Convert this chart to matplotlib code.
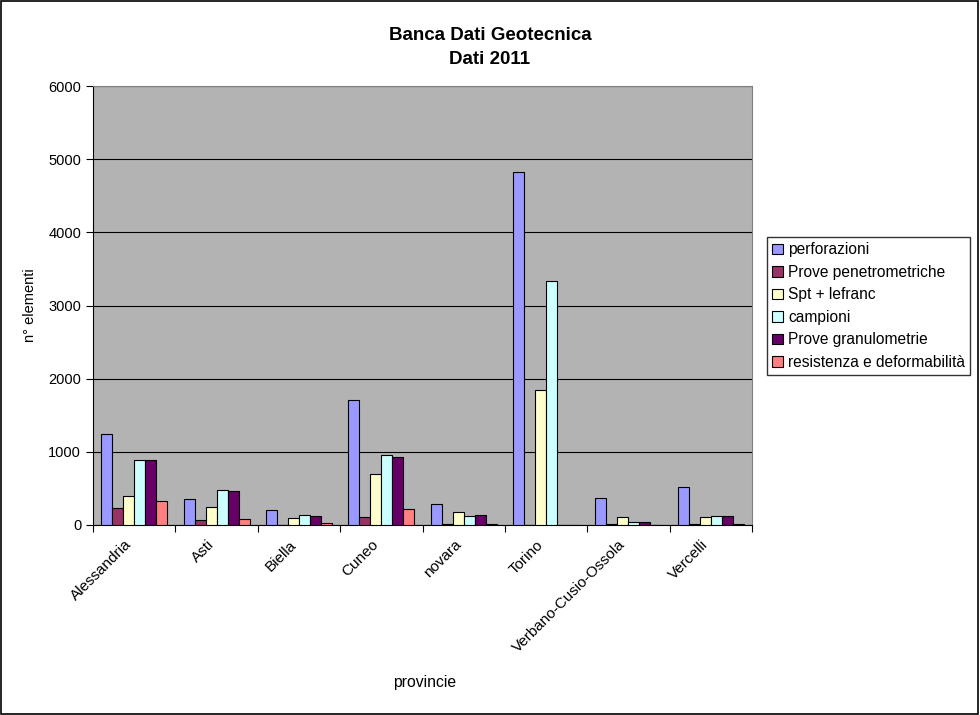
import matplotlib.pyplot as plt
import numpy as np
from matplotlib.patches import Rectangle

plt.rcParams["font.family"] = ["Liberation Sans", "DejaVu Sans"]

provinces = ["Alessandria", "Asti", "Biella", "Cuneo", "novara", "Torino",
             "Verbano-Cusio-Ossola", "Vercelli"]
series_names = ["perforazioni", "Prove penetrometriche", "Spt + lefranc",
                "campioni", "Prove granulometrie", "resistenza e deformabilità"]
perforazioni = [1245, 355, 205, 1715, 285, 4830, 365, 520]
prove_penetrometriche = [230, 70, 0, 105, 15, 0, 10, 12]
spt_lefranc = [395, 245, 92, 697, 175, 1850, 106, 106]
campioni = [890, 480, 133, 958, 128, 3335, 38, 120]
prove_granulometrie = [885, 468, 119, 930, 133, 0, 40, 120]
resistenza = [330, 83, 23, 216, 10, 0, 0, 10]

series = [perforazioni, prove_penetrometriche, spt_lefranc, campioni,
          prove_granulometrie, resistenza]
colors = ["#9999FF", "#993366", "#FFFFCC", "#CCFFFF", "#660066", "#FF8080"]

fig = plt.figure(figsize=(9.8, 7.15), dpi=100)
fig.patches.append(Rectangle((0.001, 0.001), 0.997, 0.997, transform=fig.transFigure,
                             fill=False, edgecolor="black", linewidth=1.2))
ax = fig.add_axes([93 / 980, 1 - 525 / 715, 659 / 980, 439 / 715])
ax.set_facecolor("#b3b3b3")

n = len(series)
bw = 1.0 / (n + 1.5)
x = np.arange(len(provinces))
for i, (vals, c, name) in enumerate(zip(series, colors, series_names)):
    offs = (i - (n - 1) / 2) * bw
    ax.bar(x + 0.5 + offs, vals, width=bw, color=c, edgecolor="black",
           linewidth=0.8, label=name, zorder=3)

ax.set_xlim(0, len(provinces))
ax.set_ylim(0, 6000)
ax.set_yticks(np.arange(0, 6001, 1000))
ax.yaxis.grid(True, color="black", linewidth=0.8, zorder=1)
ax.set_axisbelow(True)
ax.set_xticks(np.arange(0, len(provinces) + 1), minor=False)
ax.set_xticklabels([])
ax.set_xticks(x + 0.38, minor=True)
ax.set_xticklabels(provinces, minor=True, rotation=45, ha="right",
                   rotation_mode="anchor", fontsize=11)
ax.tick_params(axis="x", which="minor", length=0, pad=9)
ax.tick_params(axis="x", which="major", length=5, direction="out")
ax.tick_params(axis="y", length=5, labelsize=10.5)
for s in ["top", "right"]:
    ax.spines[s].set_color("#808080")
ax.spines["left"].set_color("black")
ax.spines["bottom"].set_color("black")

fig.text(30 / 980, 1 - 305 / 715, "n° elementi", ha="center", va="center",
         rotation=90, fontsize=10.5)
fig.text(425 / 980, 1 - 683 / 715, "provincie", ha="center", va="center", fontsize=11.3)
fig.text(490 / 980, 1 - 36 / 715, "Banca Dati Geotecnica", ha="center", va="center",
         fontsize=13.5, fontweight="bold")
fig.text(490 / 980, 1 - 60 / 715, "Dati 2011", ha="center", va="center",
         fontsize=13.5, fontweight="bold")

leg = fig.legend(loc="upper left", bbox_to_anchor=(767 / 980, 1 - 237 / 715),
                 fontsize=11.2, frameon=True, fancybox=False, edgecolor="black",
                 handlelength=0.65, handleheight=0.65, handletextpad=0.35,
                 borderpad=0.35, labelspacing=0.48, borderaxespad=0)
leg.get_frame().set_linewidth(1.0)

fig.savefig("out.png", dpi=100)
